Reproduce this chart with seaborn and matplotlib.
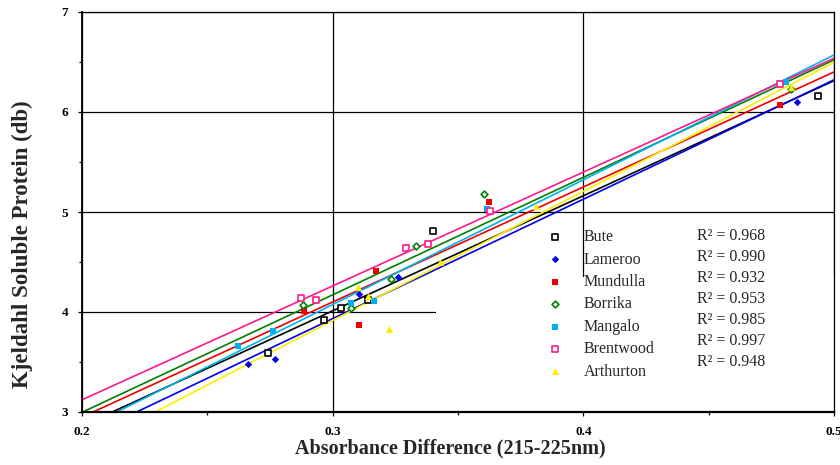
import matplotlib
matplotlib.use('Agg')
import matplotlib.pyplot as plt
from matplotlib.patches import Rectangle
from matplotlib.ticker import MultipleLocator
import numpy as np
import seaborn as sns

# absorbance difference (215-225nm) vs kjeldahl soluble protein, per variety
bute_x = [0.2742, 0.2965, 0.3033, 0.3141, 0.3401, 0.4936]
bute_y = [3.59, 3.915, 4.035, 4.12, 4.805, 6.157]
lameroo_x = [0.2661, 0.2771, 0.3104, 0.3260, 0.4851]
lameroo_y = [3.477, 3.533, 4.182, 4.347, 6.097]
mundulla_x = [0.2884, 0.3106, 0.3174, 0.3625, 0.4785]
mundulla_y = [4.015, 3.87, 4.41, 5.095, 6.07]
borrika_x = [0.2880, 0.3074, 0.3233, 0.3331, 0.3602, 0.4828]
borrika_y = [4.065, 4.037, 4.327, 4.657, 5.177, 6.23]
mangalo_x = [0.2621, 0.2763, 0.3075, 0.3163, 0.3614, 0.4809]
mangalo_y = [3.663, 3.807, 4.088, 4.11, 5.028, 6.303]
brentwood_x = [0.2872, 0.2935, 0.3294, 0.3381, 0.3627, 0.4785]
brentwood_y = [4.138, 4.118, 4.64, 4.68, 5.005, 6.277]
arthurton_x = [0.3102, 0.3141, 0.3223, 0.3430, 0.3810, 0.4828]
arthurton_y = [4.247, 4.163, 3.827, 4.50, 5.063, 6.252]

varieties = ['Bute', 'Lameroo', 'Mundulla', 'Borrika', 'Mangalo', 'Brentwood', 'Arthurton']
r2_values = ['0.968', '0.990', '0.932', '0.953', '0.985', '0.997', '0.948']

xs = [bute_x, lameroo_x, mundulla_x, borrika_x, mangalo_x, brentwood_x, arthurton_x]
ys = [bute_y, lameroo_y, mundulla_y, borrika_y, mangalo_y, brentwood_y, arthurton_y]

colors = ['#000000', '#0000ee', '#ee0000', '#008000', '#00b0f0', '#ff1a8c', '#ffee00']
markers = ['s', 'D', 's', 'D', 's', 's', '^']
filled = [False, True, True, False, True, False, True]
sizes = [18, 14, 22, 12, 22, 20, 26]

sns.set_style('white')
plt.rcParams['font.family'] = ['Liberation Serif', 'DejaVu Serif']

fig = plt.figure(figsize=(8.4, 4.65), dpi=100)
ax = fig.add_axes([82 / 840, 1 - 412 / 465, 752 / 840, 400 / 465])
ax.set_xlim(0.2, 0.5)
ax.set_ylim(3, 7)

handles = []
for x, y, c, m, f, s, name in zip(xs, ys, colors, markers, filled, sizes, varieties):
    # fitted line across the whole x range
    sns.regplot(x=np.array(x), y=np.array(y), scatter=False, ci=None, truncate=False,
                color=c, line_kws=dict(lw=1.2, zorder=2), ax=ax)
    if f:
        h = ax.scatter(x, y, s=s, marker=m, color=c, linewidths=0, zorder=3, label=name)
    else:
        h = ax.scatter(x, y, s=s, marker=m, facecolors='white', edgecolors=c,
                       linewidths=1.2, zorder=3, label=name)
    handles.append(h)

ax.set_xlim(0.2, 0.5)
ax.set_ylim(3, 7)

# grid
ax.xaxis.set_major_locator(MultipleLocator(0.1))
ax.xaxis.set_minor_locator(MultipleLocator(0.05))
ax.yaxis.set_major_locator(MultipleLocator(1))
ax.yaxis.set_minor_locator(MultipleLocator(0.5))
ax.set_axisbelow(True)
ax.grid(True, which='major', color='black', lw=0.9)
ax.xaxis.set_major_formatter(plt.FuncFormatter(lambda v, p: f'{v:.1f}'))

# white box behind the legend hides part of the grid
ax.add_patch(Rectangle((0.471, 0), 0.529, 0.3375, transform=ax.transAxes,
                       facecolor='white', edgecolor='none', zorder=1))

for side in ['top', 'right']:
    ax.spines[side].set_linewidth(0.9)
    ax.spines[side].set_color('black')
ax.spines['bottom'].set_linewidth(1.6)
ax.spines['left'].set_linewidth(1.3)
ax.spines['bottom'].set_color('black')
ax.spines['left'].set_color('black')

ax.tick_params(axis='both', which='major', direction='out', length=3, width=0.9,
               colors='black', labelsize=9.5)
ax.tick_params(axis='x', which='major', pad=7)
ax.tick_params(axis='y', which='major', pad=7)
ax.tick_params(axis='both', which='minor', direction='out', length=2, width=0.9, colors='black')
ax.tick_params(axis='x', which='both', bottom=True, top=False)
ax.tick_params(axis='y', which='both', left=True, right=False)
for lab in ax.get_xticklabels() + ax.get_yticklabels():
    lab.set_fontweight('bold')

ax.set_xlabel('Absorbance Difference (215-225nm)', fontsize=14.5, fontweight='bold')
ax.set_ylabel('Kjeldahl Soluble Protein (db)', fontsize=16.5, fontweight='bold')
ax.xaxis.set_label_coords(0.49, -0.065)
ax.yaxis.set_label_coords(-0.065, 0.42)

leg = ax.legend(handles=handles, loc='upper left', bbox_to_anchor=(0.619, 0.457),
                frameon=False, fontsize=11.5, scatterpoints=1, handlelength=1.0,
                handletextpad=1.25, borderpad=0, borderaxespad=0, labelspacing=0.4)
leg.set_zorder(4)

for i, r2 in enumerate(r2_values):
    ax.text(0.818, 0.44 - i * 0.0527, f'R\u00b2 = {r2}', transform=ax.transAxes,
            fontsize=11.5, va='center', ha='left', zorder=4)

fig.savefig('out.png', dpi=100)
